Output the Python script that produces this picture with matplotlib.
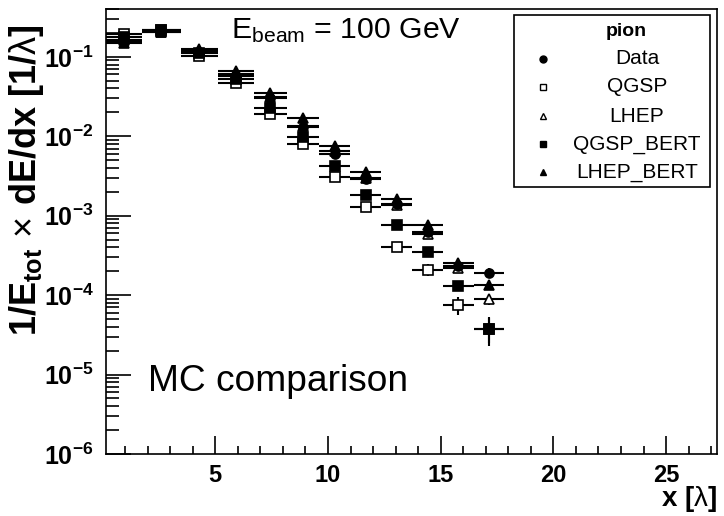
import numpy as np
import matplotlib
matplotlib.use("Agg")
import matplotlib.pyplot as plt
from matplotlib.lines import Line2D
from matplotlib.patches import Rectangle
from matplotlib.ticker import LogLocator, FixedLocator, NullFormatter

plt.rcParams['font.family'] = ['Liberation Sans', 'DejaVu Sans']
plt.rcParams['mathtext.fontset'] = 'custom'
plt.rcParams['mathtext.rm'] = 'Liberation Sans'
plt.rcParams['mathtext.it'] = 'Liberation Sans:italic'
plt.rcParams['mathtext.bf'] = 'Liberation Sans:bold'

# bin edges in interaction lengths
bin_edges = [0.15, 1.73, 3.47, 5.10, 6.70, 8.16, 9.62, 10.99, 12.37, 13.74, 15.09, 16.46, 17.83]

data = [0.155, 0.210, 0.115, 0.058, 0.030, 0.0130, 0.0059, 0.0029, 0.0014, 0.00062, 0.000236, 0.000190]
qgsp = [0.195, 0.215, 0.103, 0.047, 0.019, 0.0079, 0.0031, 0.0013, 0.00040, 0.00021, 0.000076, 0.000038]
lhep = [0.165, 0.205, 0.120, 0.061, 0.031, 0.0135, 0.0065, 0.0030, 0.00135, 0.00059, 0.000221, 0.000089]
qgsp_bert = [0.180, 0.215, 0.112, 0.053, 0.023, 0.0098, 0.0042, 0.0018, 0.00077, 0.00035, 0.000132, 0.000038]
lhep_bert = [0.148, 0.205, 0.127, 0.066, 0.035, 0.0170, 0.0075, 0.0035, 0.0016, 0.00077, 0.000255, 0.000135]

# relative errors
data_err = [0.01, 0.01, 0.01, 0.01, 0.02, 0.02, 0.03, 0.04, 0.05, 0.08, 0.10, 0.14]
qgsp_err = [0.01, 0.01, 0.01, 0.02, 0.02, 0.03, 0.05, 0.07, 0.10, 0.18, 0.26, 0.35]
lhep_err = [0.01, 0.01, 0.01, 0.01, 0.02, 0.02, 0.03, 0.05, 0.07, 0.10, 0.15, 0.16]
qgsp_bert_err = [0.01, 0.01, 0.01, 0.02, 0.02, 0.03, 0.04, 0.06, 0.08, 0.14, 0.15, 0.40]
lhep_bert_err = [0.01, 0.01, 0.01, 0.01, 0.02, 0.02, 0.03, 0.04, 0.06, 0.09, 0.12, 0.14]

labels = ['Data', 'QGSP', 'LHEP', 'QGSP_BERT', 'LHEP_BERT']
series = [data, qgsp, lhep, qgsp_bert, lhep_bert]
errors = [data_err, qgsp_err, lhep_err, qgsp_bert_err, lhep_bert_err]
markers = ['o', 's', '^', 's', '^']
fills = ['k', 'w', 'w', 'k', 'k']

edges = np.array(bin_edges)
xc = 0.5 * (edges[:-1] + edges[1:])
xw = 0.5 * (edges[1:] - edges[:-1])

fig = plt.figure(figsize=(7.24, 5.16), dpi=100)
ax = fig.add_axes([106 / 724, 1 - 454 / 516, 611 / 724, 445 / 516])

# draw from last to first so Data sits on top
for i in [1, 2, 3, 4, 0]:
    y = np.array(series[i])
    e = y * np.array(errors[i])
    ax.errorbar(xc, y, xerr=xw, yerr=e, fmt=markers[i], ms=6.5,
                mfc=fills[i], mec='k', mew=1.2, ecolor='k', elinewidth=1.5,
                capsize=0, zorder=3)

ax.set_yscale('log')
ax.set_xlim(bin_edges[0], 27.26)
ax.set_ylim(1e-6, 0.4)

ax.xaxis.set_major_locator(FixedLocator([5, 10, 15, 20, 25]))
ax.xaxis.set_minor_locator(FixedLocator(np.arange(1, 28, 1)))
ax.yaxis.set_minor_locator(LogLocator(base=10, subs=np.arange(2, 10), numticks=20))
ax.yaxis.set_minor_formatter(NullFormatter())
ax.set_yticks([1e-6, 1e-5, 1e-4, 1e-3, 1e-2, 1e-1])
ax.set_yticklabels([r'$\mathbf{10^{-%d}}$' % k for k in [6, 5, 4, 3, 2, 1]])
ax.set_xticklabels(['5', '10', '15', '20', '25'], fontweight='bold')

ax.tick_params(axis='both', which='both', direction='in', top=False, right=False,
               width=1.2)
ax.tick_params(axis='x', which='major', length=13, pad=7, labelsize=17)
ax.tick_params(axis='x', which='minor', length=6)
ax.tick_params(axis='y', which='major', length=18, pad=9, labelsize=18)
ax.tick_params(axis='y', which='minor', length=9)
for s in ax.spines.values():
    s.set_linewidth(1.2)

ax.set_ylabel(r'$\mathbf{1/E_{tot}}\,\times\,\mathbf{dE/dx\ [1/}\mathrm{λ}\mathbf{]}$',
              fontsize=26, loc='top')
ax.yaxis.set_label_coords(-0.099, 0.965)
ax.set_xlabel(r'$\mathbf{x\ [}\mathrm{λ}\mathbf{]}$', fontsize=20, loc='right')
ax.xaxis.set_label_coords(1.0, -0.068)

ax.text((231 - 106) / 611, (454 - 38.3) / 445, r'E$_{\rm beam}$ = 100 GeV',
        transform=ax.transAxes, fontsize=21.8, va='baseline', ha='left')
ax.text((148 - 106) / 611, (454 - 390.7) / 445, 'MC comparison',
        transform=ax.transAxes, fontsize=26.7, va='baseline', ha='left')

# legend box
lx0, lx1 = (514 - 106) / 611, (710 - 106) / 611
ly0, ly1 = (454 - 187) / 445, (454 - 15) / 445
ax.add_patch(Rectangle((lx0, ly0), lx1 - lx0, ly1 - ly0, transform=ax.transAxes,
                       fill=True, fc='w', ec='k', lw=1.2, zorder=5, clip_on=False))
ax.text((626 - 106) / 611, (454 - 31) / 445, 'pion', transform=ax.transAxes,
        fontsize=14, fontweight='bold', ha='center', va='center', zorder=6)
leg_y = [59, 87, 116, 144, 172]
for lab, m, f, yy in zip(labels, markers, fills, leg_y):
    ya = (454 - yy) / 445
    ax.add_line(Line2D([(543 - 106) / 611], [ya], transform=ax.transAxes,
                       marker=m, ms=5, mfc=f, mec='k', mew=1.0, ls='none',
                       zorder=6, clip_on=False))
    ax.text((637 - 106) / 611, ya, lab, transform=ax.transAxes, fontsize=15,
            ha='center', va='center', zorder=6)

fig.savefig('out.png', dpi=100)
